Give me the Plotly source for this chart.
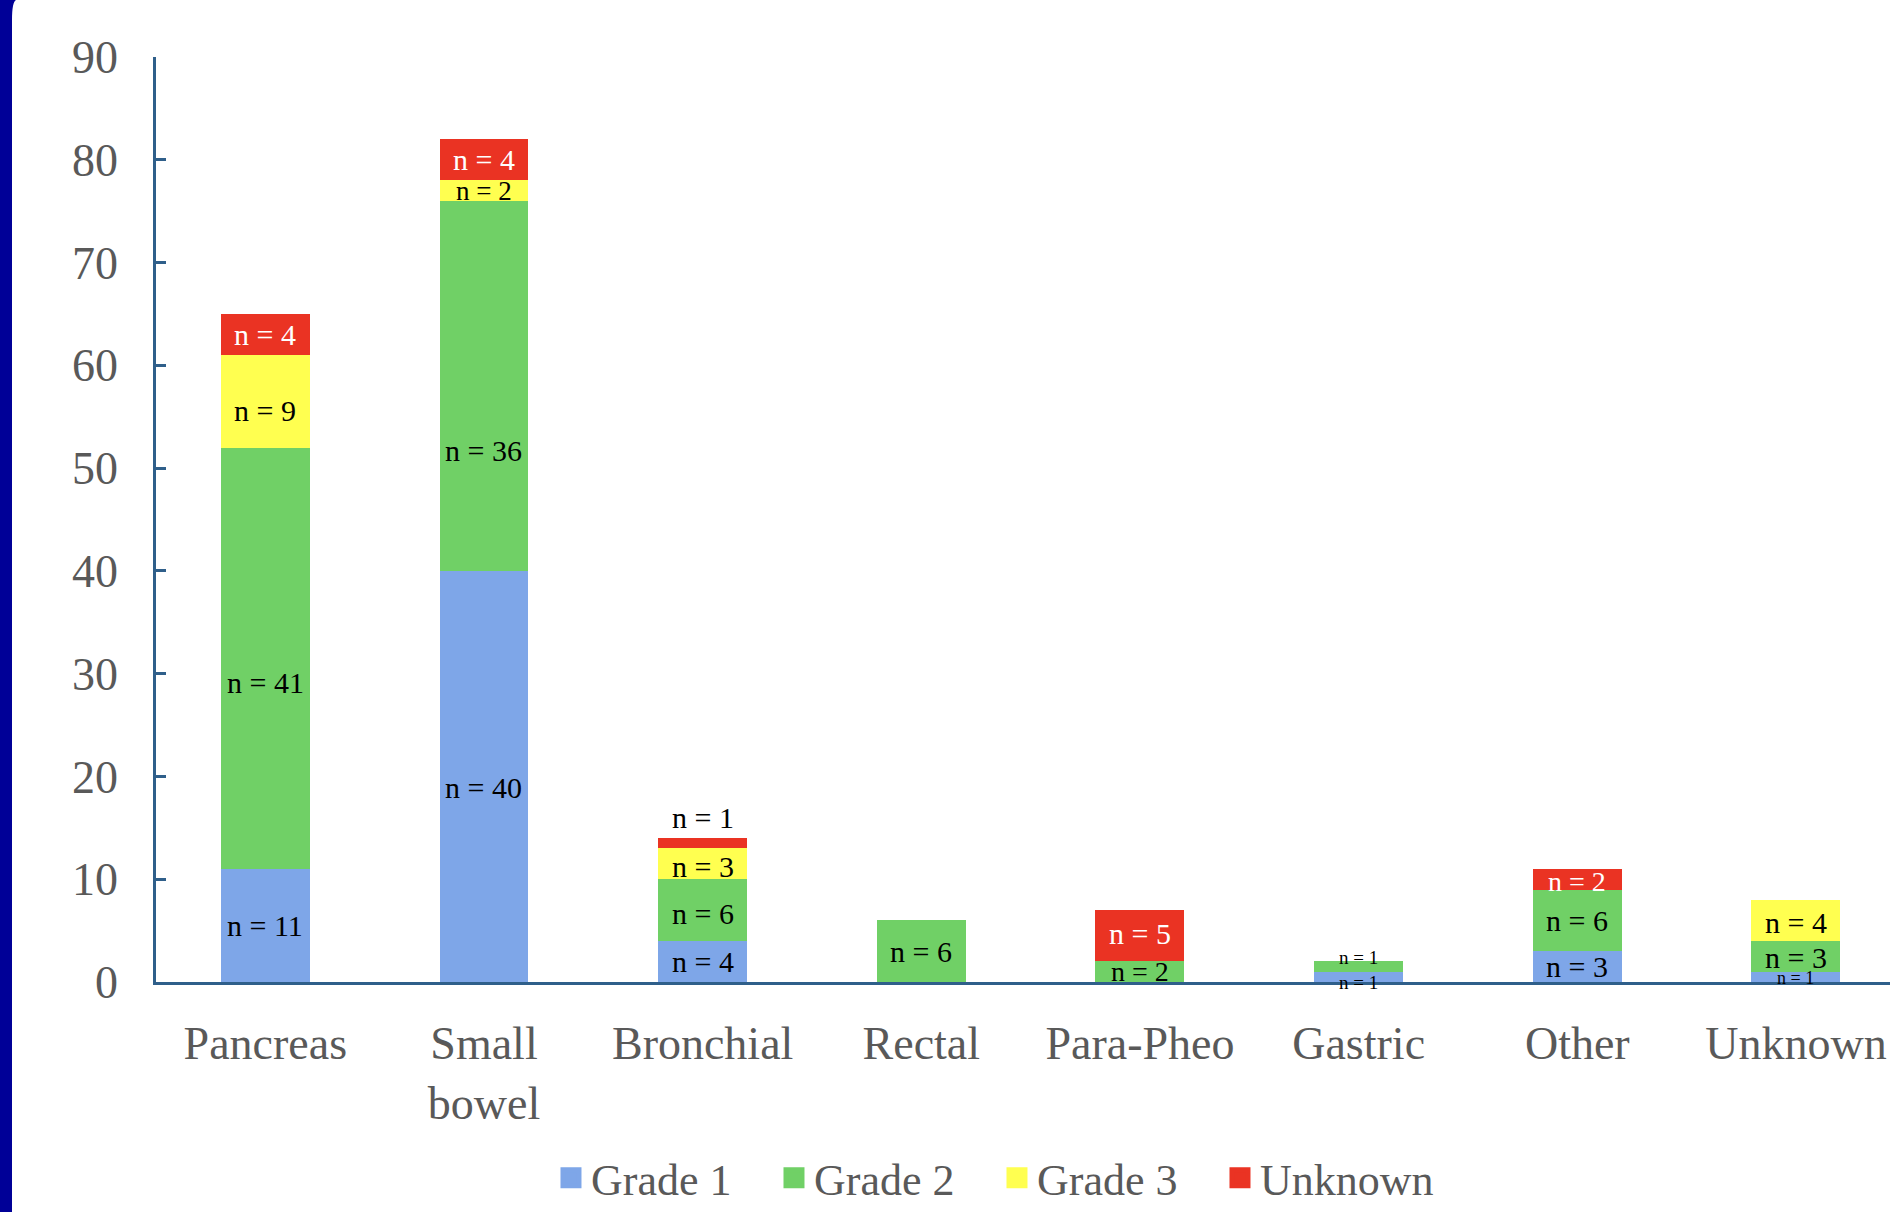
import plotly.graph_objects as go

# ---------------- data ----------------
categories = ["Pancreas", "Small<br>bowel", "Bronchial", "Rectal", "Para-Pheo", "Gastric", "Other", "Unknown"]
series_names = ["Grade 1", "Grade 2", "Grade 3", "Unknown"]
grade1 = [11, 40, 4, 0, 0, 1, 3, 1]
grade2 = [41, 36, 6, 6, 2, 1, 6, 3]
grade3 = [9, 2, 3, 0, 0, 0, 0, 4]
grade_unknown = [4, 4, 1, 0, 5, 0, 2, 0]
y_ticks = [0, 10, 20, 30, 40, 50, 60, 70, 80, 90]

series_values = [grade1, grade2, grade3, grade_unknown]

# ---------------- style ----------------
bar_colors = ["#7EA6E8", "#70D066", "#FFFF50", "#EA3323"]
label_colors = ["black", "black", "black", "white"]
axis_color = "#2F5F8A"
text_gray = "#595959"
serif = "Liberation Serif, Times New Roman, serif"
big_font = 46
label_font = 30

# label placement tweaks (series index, category index) -> offset in data units from segment centre
label_dy = {
    (1, 0): -2.4, (2, 0): -0.9,
    (0, 1): -1.1, (1, 1): -6.3,
    (1, 2): -0.3, (2, 2): -0.3, (3, 2): 2.5,
    (3, 4): 0.2,
    (0, 5): -0.5, (1, 5): 0.9,
    (3, 6): -0.2,
    (0, 7): -0.1, (1, 7): -0.15, (2, 7): -0.25,
}
label_size = {(2, 1): 27, (1, 4): 28, (3, 6): 28, (0, 5): 19, (1, 5): 19, (0, 7): 18}
label_color_override = {(3, 2): "black"}

fig = go.Figure()

for s, (name, vals) in enumerate(zip(series_names, series_values)):
    fig.add_trace(go.Bar(
        x=categories, y=vals, name=name,
        marker=dict(color=bar_colors[s], line=dict(width=0)),
        showlegend=False, hoverinfo="skip",
    ))
    # legend proxy with larger square swatch
    fig.add_trace(go.Scatter(
        x=[None], y=[None], mode="markers", name=name,
        marker=dict(symbol="square", size=16, color=bar_colors[s],
                    line=dict(color=bar_colors[s], width=5)),
        showlegend=True,
    ))

# segment labels
annotations = []
base = [0] * len(categories)
for s, vals in enumerate(series_values):
    for c, v in enumerate(vals):
        if v > 0:
            yc = base[c] + v / 2 + label_dy.get((s, c), 0)
            annotations.append(dict(
                x=categories[c], y=yc, xref="x", yref="y",
                text=f"n = {v}", showarrow=False,
                xanchor="center", yanchor="middle",
                font=dict(family=serif, size=label_size.get((s, c), label_font),
                          color=label_color_override.get((s, c), label_colors[s])),
            ))
        base[c] += v

# slide frame on the left (navy strip with rounded top corner)
L, R, T, B = 156, 1890, 57, 982
W, H = R - L, B - T
px = lambda x: (x - L) / W
py = lambda y: (B - y) / H
frame_path = (f"M {px(0)},{py(0)} L {px(16)},{py(0)} Q {px(12)},{py(2)} {px(12)},{py(20)} "
              f"L {px(12)},{py(1212)} L {px(0)},{py(1212)} Z")

fig.update_layout(
    template="none",
    width=1890, height=1212,
    margin=dict(l=L, r=0, t=T, b=1212 - B, autoexpand=False),
    paper_bgcolor="white", plot_bgcolor="white",
    barmode="stack", bargap=0.593,
    font=dict(family=serif, color=text_gray, size=big_font),
    annotations=annotations,
    shapes=[dict(type="path", path=frame_path, xref="paper", yref="paper",
                 fillcolor="#000097", line=dict(width=0), layer="above")],
    legend=dict(
        orientation="h", x=0.485, xanchor="center", y=-0.212, yanchor="middle",
        font=dict(family=serif, size=44, color=text_gray),
        bgcolor="rgba(0,0,0,0)", entrywidth=178, entrywidthmode="pixels",
        traceorder="normal",
    ),
    xaxis=dict(
        type="category", range=[-0.5, 7.43], showgrid=False, zeroline=False,
        showline=True, linecolor=axis_color, linewidth=2.5,
        ticks="", ticklabelstandoff=19,
        tickfont=dict(family=serif, size=big_font, color=text_gray),
        fixedrange=True,
    ),
    yaxis=dict(
        range=[0, 90], tickvals=y_ticks, showgrid=False, zeroline=False,
        showline=True, linecolor=axis_color, linewidth=2.5,
        ticks="inside", ticklen=10, tickwidth=2.5, tickcolor=axis_color,
        ticklabelstandoff=26,
        tickfont=dict(family=serif, size=big_font, color=text_gray),
        fixedrange=True,
    ),
)

fig.write_html(
    "out.html",
    config={"displayModeBar": False},
    post_script="document.body.style.margin='0px';document.body.style.overflow='hidden';",
)
